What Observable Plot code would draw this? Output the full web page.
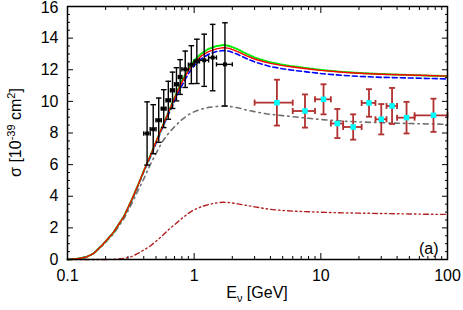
<!DOCTYPE html>
<html><head><meta charset="utf-8">
<script src="https://cdn.jsdelivr.net/npm/d3@7"></script>
<script src="https://cdn.jsdelivr.net/npm/@observablehq/plot@0.6"></script>
<style>body{margin:0;background:#fff}</style>
</head><body><div id="chart"></div>
<script>
// ---- model curves (E in GeV, sigma in 1e-39 cm^2) ----
const curveE     = [0.1, 0.12, 0.14, 0.16, 0.19, 0.23, 0.28, 0.32, 0.36, 0.4, 0.45, 0.5, 0.56, 0.63, 0.7, 0.8, 0.9, 1.0, 1.15, 1.3, 1.5, 1.7, 1.9, 2.2, 2.6, 3, 3.5, 4, 5, 6, 8, 10, 15, 20, 30, 50, 70, 100];
const sigmaRed   = [0, 0.05, 0.15, 0.37, 0.95, 1.7, 2.75, 3.75, 4.7, 5.6, 6.55, 7.45, 8.4, 9.35, 10.2, 11.2, 11.95, 12.45, 12.9, 13.15, 13.32, 13.4, 13.35, 13.15, 12.88, 12.68, 12.52, 12.4, 12.26, 12.17, 12.05, 11.96, 11.84, 11.78, 11.72, 11.67, 11.64, 11.6];
const sigmaGreen = [0, 0.05, 0.15, 0.37, 0.95, 1.7, 2.75, 3.75, 4.7, 5.6, 6.55, 7.45, 8.4, 9.35, 10.25, 11.3, 12.05, 12.6, 13.05, 13.32, 13.5, 13.56, 13.5, 13.3, 13.0, 12.78, 12.6, 12.47, 12.32, 12.22, 12.09, 11.99, 11.86, 11.8, 11.73, 11.67, 11.63, 11.6];
const sigmaBlue  = [0, 0.05, 0.15, 0.37, 0.95, 1.7, 2.75, 3.7, 4.65, 5.55, 6.45, 7.35, 8.3, 9.2, 10.05, 11.0, 11.75, 12.25, 12.72, 12.98, 13.15, 13.22, 13.17, 12.98, 12.7, 12.5, 12.33, 12.2, 12.06, 11.97, 11.85, 11.76, 11.64, 11.58, 11.52, 11.48, 11.45, 11.42];
const sigmaGray  = [0, 0.05, 0.15, 0.35, 0.9, 1.6, 2.6, 3.5, 4.35, 5.1, 6.0, 6.7, 7.45, 8.0, 8.4, 8.85, 9.15, 9.35, 9.52, 9.62, 9.68, 9.7, 9.68, 9.6, 9.45, 9.35, 9.25, 9.18, 9.1, 9.03, 8.93, 8.85, 8.75, 8.7, 8.65, 8.6, 8.57, 8.55];
const sigmaBrown = [0, 0, 0, 0, 0, 0.01, 0.07, 0.18, 0.38, 0.6, 0.85, 1.15, 1.5, 1.9, 2.2, 2.6, 2.92, 3.15, 3.35, 3.48, 3.58, 3.62, 3.6, 3.52, 3.42, 3.33, 3.24, 3.17, 3.1, 3.06, 3.02, 2.99, 2.95, 2.93, 2.91, 2.88, 2.86, 2.85];

// ---- low-energy data (black) ----
const lowE     = [0.425, 0.475, 0.525, 0.575, 0.625, 0.675, 0.725, 0.775, 0.85, 0.95, 1.05, 1.2, 1.4, 1.75];
const lowELo   = [0.4, 0.45, 0.5, 0.55, 0.6, 0.65, 0.7, 0.75, 0.8, 0.9, 1.0, 1.1, 1.3, 1.5];
const lowEHi   = [0.45, 0.5, 0.55, 0.6, 0.65, 0.7, 0.75, 0.8, 0.9, 1.0, 1.1, 1.3, 1.5, 2.0];
const lowSigma = [7.97, 8.24, 8.81, 9.54, 10.07, 10.7, 11.08, 11.54, 12.03, 12.32, 12.53, 12.6, 12.77, 12.34];
const lowErr   = [2.0, 1.55, 1.4, 1.2, 1.2, 1.15, 1.05, 1.1, 1.15, 1.2, 1.4, 1.65, 2.1, 2.63];

// ---- high-energy data (red with cyan squares) ----
const highE     = [4.5, 7.5, 10.5, 13.5, 18, 24, 30, 36.5, 47.5, 77.5];
const highELo   = [3, 6, 9, 12, 15, 21, 27, 33, 40, 55];
const highEHi   = [6, 9, 12, 15, 21, 27, 33, 40, 55, 100];
const highSigma = [9.92, 9.39, 10.13, 8.6, 8.38, 9.9, 8.87, 9.71, 8.97, 9.12];
const highErr   = [1.45, 1.05, 0.95, 0.92, 0.8, 0.87, 0.96, 1.14, 1.0, 1.05];

// ---- ticks ----
const xMajor = [0.1, 1, 10, 100];
const xMinor = [0.2,0.3,0.4,0.5,0.6,0.7,0.8,0.9,2,3,4,5,6,7,8,9,20,30,40,50,60,70,80,90];
const yMajor = [0, 2, 4, 6, 8, 10, 12, 14, 16];
const yMinor = [0.5,1,1.5,2.5,3,3.5,4.5,5,5.5,6.5,7,7.5,8.5,9,9.5,10.5,11,11.5,12.5,13,13.5,14.5,15,15.5];

const curves = curveE.map((E, i) => ({E, red: sigmaRed[i], green: sigmaGreen[i], blue: sigmaBlue[i], gray: sigmaGray[i], brown: sigmaBrown[i]}));
const low = lowE.map((E, i) => ({E, lo: lowELo[i], hi: lowEHi[i], s: lowSigma[i], e: lowErr[i]}));
const high = highE.map((E, i) => ({E, lo: highELo[i], hi: highEHi[i], s: highSigma[i], e: highErr[i]}));

const hcap = {draw(ctx, size) { const r = Math.sqrt(size / Math.PI); ctx.moveTo(-r, 0); ctx.lineTo(r, 0); }};
const vcap = {draw(ctx, size) { const r = Math.sqrt(size / Math.PI); ctx.moveTo(0, -r); ctx.lineTo(0, r); }};

const font = "Liberation Sans, Arial, sans-serif";
const tickOpts = {fill: "none", label: null, strokeWidth: 1};
const dark = "#b03030";
const topLabel = yMajor[yMajor.length - 1];

const svg = Plot.plot({
  width: 463, height: 310,
  marginLeft: 67, marginRight: 16, marginTop: 6, marginBottom: 51,
  x: {type: "log", domain: [0.1, 100]},
  y: {domain: [0, 16]},
  style: {fontFamily: font, fontSize: "16px", color: "black", background: "white"},
  marks: [
    // tick labels
    Plot.axisX({ticks: xMajor, tickSize: 0, tickPadding: 10, tickFormat: d => String(d), label: null, fontSize: 16}),
    Plot.axisY({ticks: yMajor.filter(d => d !== topLabel), tickSize: 0, tickPadding: 9, tickFormat: d => String(d), label: null, fontSize: 16}),
    Plot.axisY({ticks: [topLabel], tickSize: 0, tickPadding: 9, dy: 1.5, tickFormat: d => String(d), label: null, fontSize: 16}),
    // inward ticks on all sides
    Plot.axisX({...tickOpts, anchor: "bottom", ticks: xMajor, tickSize: -6}),
    Plot.axisX({...tickOpts, anchor: "bottom", ticks: xMinor, tickSize: -3}),
    Plot.axisX({...tickOpts, anchor: "top", ticks: xMajor, tickSize: -6}),
    Plot.axisX({...tickOpts, anchor: "top", ticks: xMinor, tickSize: -3}),
    Plot.axisY({...tickOpts, anchor: "left", ticks: yMajor, tickSize: -6}),
    Plot.axisY({...tickOpts, anchor: "left", ticks: yMinor, tickSize: -3}),
    Plot.axisY({...tickOpts, anchor: "right", ticks: yMajor, tickSize: -6}),
    Plot.axisY({...tickOpts, anchor: "right", ticks: yMinor, tickSize: -3}),
    // model curves
    Plot.line(curves, {x: "E", y: "gray", stroke: "#707070", strokeWidth: 1.6, strokeDasharray: "5 4 1.5 4"}),
    Plot.line(curves, {x: "E", y: "brown", stroke: "#b22222", strokeWidth: 1.4, strokeDasharray: "5 3 1.5 3 1.5 3"}),
    Plot.line(curves, {x: "E", y: "blue", stroke: "#0000ff", strokeWidth: 1.6, strokeDasharray: "5 3"}),
    Plot.line(curves, {x: "E", y: "green", stroke: "#00ee00", strokeWidth: 2, strokeDasharray: "1.5 1.5"}),
    Plot.line(curves, {x: "E", y: "red", stroke: "#ff0000", strokeWidth: 1.4}),
    // high-energy data
    Plot.ruleX(high, {x: "E", y1: d => d.s - d.e, y2: d => d.s + d.e, stroke: dark, strokeWidth: 1.8}),
    Plot.ruleY(high, {y: "s", x1: "lo", x2: "hi", stroke: dark, strokeWidth: 1.8}),
    Plot.dot(high, {x: "E", y: d => d.s - d.e, symbol: hcap, r: 3, stroke: dark, strokeWidth: 1.8}),
    Plot.dot(high, {x: "E", y: d => d.s + d.e, symbol: hcap, r: 3, stroke: dark, strokeWidth: 1.8}),
    Plot.dot(high, {x: "lo", y: "s", symbol: vcap, r: 3, stroke: dark, strokeWidth: 1.8}),
    Plot.dot(high, {x: "hi", y: "s", symbol: vcap, r: 3, stroke: dark, strokeWidth: 1.8}),
    Plot.dot(high, {x: "E", y: "s", symbol: "square", r: 3.1, fill: "#00ffff", stroke: "none"}),
    // low-energy data
    Plot.ruleX(low, {x: "E", y1: d => d.s - d.e, y2: d => d.s + d.e, stroke: "black", strokeWidth: 1.4}),
    Plot.ruleY(low, {y: "s", x1: "lo", x2: "hi", stroke: "black", strokeWidth: 1.4}),
    Plot.dot(low, {x: "E", y: d => d.s - d.e, symbol: hcap, r: 2.8, stroke: "black", strokeWidth: 1.4}),
    Plot.dot(low, {x: "E", y: d => d.s + d.e, symbol: hcap, r: 2.8, stroke: "black", strokeWidth: 1.4}),
    Plot.dot(low, {x: "lo", y: "s", symbol: vcap, r: 2.2, stroke: "black", strokeWidth: 1.4}),
    Plot.dot(low, {x: "hi", y: "s", symbol: vcap, r: 2.2, stroke: "black", strokeWidth: 1.4}),
    Plot.dot(low, {x: "E", y: "s", symbol: "square", r: 2.2, fill: "black", stroke: "none"}),
    // panel tag
    Plot.text(["(a)"], {frameAnchor: "bottom-right", dx: -9, dy: -6, textAnchor: "end", lineAnchor: "bottom", fontSize: 16}),
    Plot.frame({stroke: "black", strokeWidth: 1.5})
  ]
});

// axis titles with real sub/superscripts
const sx = svg.scale("x"), sy = svg.scale("y");
const cx = (sx.range[0] + sx.range[1]) / 2;
const cy = (sy.range[0] + sy.range[1]) / 2;
const g = d3.select(svg).append("g").attr("font-family", font).attr("font-size", 16).attr("fill", "black");
const xl = g.append("text").attr("x", cx).attr("y", 298).attr("text-anchor", "middle");
xl.append("tspan").text("E");
xl.append("tspan").attr("font-size", 11).attr("dy", 4).text("ν");
xl.append("tspan").attr("dy", -4).text(" [GeV]");
const yl = g.append("text").attr("transform", `translate(21,${cy}) rotate(-90)`).attr("text-anchor", "middle");
yl.append("tspan").text("σ [10");
yl.append("tspan").attr("font-size", 11).attr("dy", -6).text("-39");
yl.append("tspan").attr("dy", 6).text(" cm");
yl.append("tspan").attr("font-size", 11).attr("dy", -6).text("2");
yl.append("tspan").attr("dy", 6).text("]");

document.getElementById("chart").appendChild(svg);
</script>
</body></html>
